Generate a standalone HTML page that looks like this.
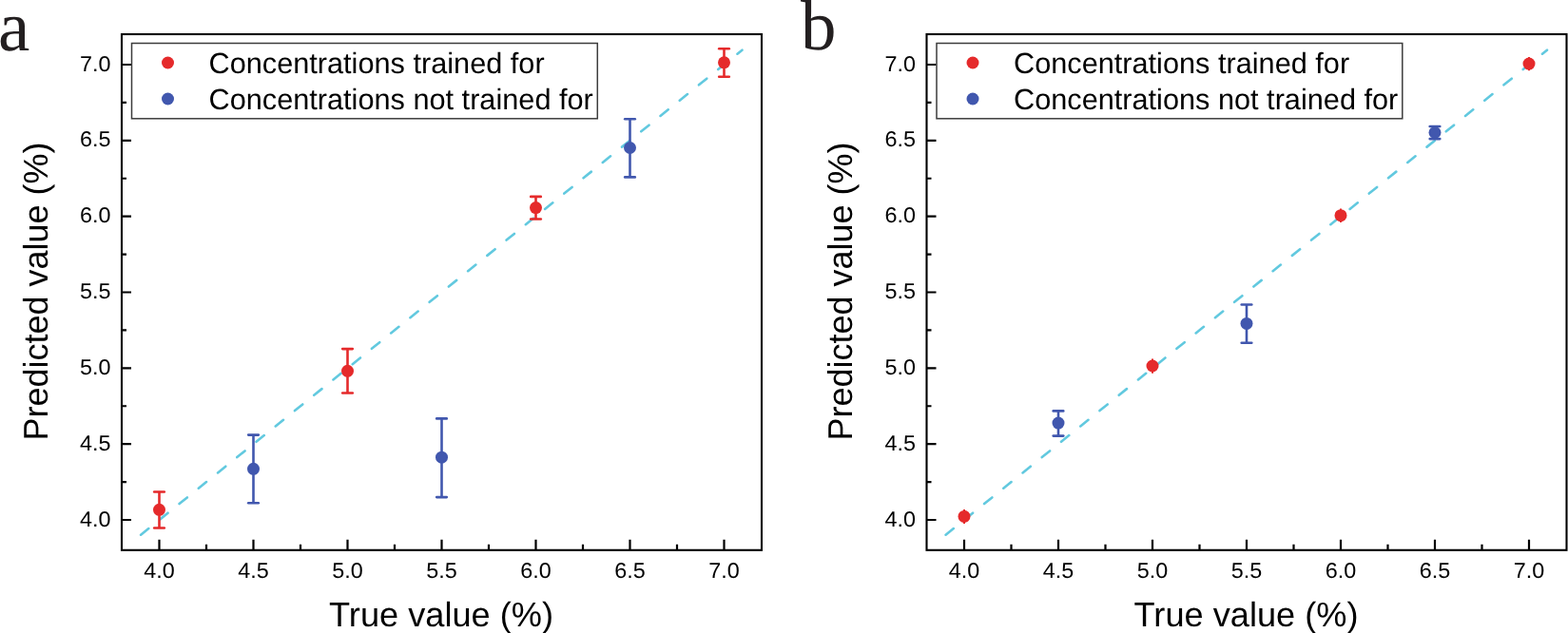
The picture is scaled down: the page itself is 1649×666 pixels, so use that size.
<!DOCTYPE html>
<html><head><meta charset="utf-8"><title>Predicted vs true value</title>
<style>html,body{margin:0;padding:0;background:#fff;width:1649px;height:666px;overflow:hidden}svg{display:block}</style>
</head><body>
<svg width="1649" height="666" viewBox="0 0 1649 666" text-rendering="geometricPrecision">
<rect width="1649" height="666" fill="#fff"/>
<line x1="148.09" y1="562.69" x2="780.46" y2="52.66" stroke="#62c9df" stroke-width="2.6" stroke-linecap="round" stroke-dasharray="10.6 15.4"/>
<g stroke="#e52a2b" stroke-width="2.6" fill="none"><line x1="167.50" y1="517.5" x2="167.50" y2="555.5"/><line x1="162.20" y1="517.5" x2="172.80" y2="517.5" stroke-linecap="round"/><line x1="162.20" y1="555.5" x2="172.80" y2="555.5" stroke-linecap="round"/></g>
<circle cx="167.50" cy="536.3" r="6.5" fill="#e52a2b"/>
<g stroke="#4157ae" stroke-width="2.6" fill="none"><line x1="266.50" y1="457.6" x2="266.50" y2="529.2"/><line x1="261.20" y1="457.6" x2="271.80" y2="457.6" stroke-linecap="round"/><line x1="261.20" y1="529.2" x2="271.80" y2="529.2" stroke-linecap="round"/></g>
<circle cx="266.50" cy="493.3" r="6.5" fill="#4157ae"/>
<g stroke="#e52a2b" stroke-width="2.6" fill="none"><line x1="365.50" y1="367.1" x2="365.50" y2="413.5"/><line x1="360.20" y1="367.1" x2="370.80" y2="367.1" stroke-linecap="round"/><line x1="360.20" y1="413.5" x2="370.80" y2="413.5" stroke-linecap="round"/></g>
<circle cx="365.50" cy="390.3" r="6.5" fill="#e52a2b"/>
<g stroke="#4157ae" stroke-width="2.6" fill="none"><line x1="464.50" y1="440.4" x2="464.50" y2="523.1"/><line x1="459.20" y1="440.4" x2="469.80" y2="440.4" stroke-linecap="round"/><line x1="459.20" y1="523.1" x2="469.80" y2="523.1" stroke-linecap="round"/></g>
<circle cx="464.50" cy="481.2" r="6.5" fill="#4157ae"/>
<g stroke="#e52a2b" stroke-width="2.6" fill="none"><line x1="563.50" y1="206.9" x2="563.50" y2="230.5"/><line x1="558.20" y1="206.9" x2="568.80" y2="206.9" stroke-linecap="round"/><line x1="558.20" y1="230.5" x2="568.80" y2="230.5" stroke-linecap="round"/></g>
<circle cx="563.50" cy="218.6" r="6.5" fill="#e52a2b"/>
<g stroke="#4157ae" stroke-width="2.6" fill="none"><line x1="662.50" y1="125.3" x2="662.50" y2="186.4"/><line x1="657.20" y1="125.3" x2="667.80" y2="125.3" stroke-linecap="round"/><line x1="657.20" y1="186.4" x2="667.80" y2="186.4" stroke-linecap="round"/></g>
<circle cx="662.50" cy="155.5" r="6.5" fill="#4157ae"/>
<g stroke="#e52a2b" stroke-width="2.6" fill="none"><line x1="761.50" y1="51.2" x2="761.50" y2="80.7"/><line x1="756.20" y1="51.2" x2="766.80" y2="51.2" stroke-linecap="round"/><line x1="756.20" y1="80.7" x2="766.80" y2="80.7" stroke-linecap="round"/></g>
<circle cx="761.50" cy="65.8" r="6.5" fill="#e52a2b"/>
<path d="M167.50 578.8V567.8 M128 547.00H138 M217.00 578.8V572.8 M128 507.08H133 M266.50 578.8V567.8 M128 467.17H138 M316.00 578.8V572.8 M128 427.25H133 M365.50 578.8V567.8 M128 387.33H138 M415.00 578.8V572.8 M128 347.41H133 M464.50 578.8V567.8 M128 307.50H138 M514.00 578.8V572.8 M128 267.58H133 M563.50 578.8V567.8 M128 227.66H138 M613.00 578.8V572.8 M128 187.74H133 M662.50 578.8V567.8 M128 147.83H138 M712.00 578.8V572.8 M128 107.91H133 M761.50 578.8V567.8 M128 67.99H138" stroke="#000" stroke-width="2.2" fill="none"/>
<rect x="128" y="36" width="673" height="542.8" fill="none" stroke="#000" stroke-width="2.1"/>
<text x="167.50" y="608.1" text-anchor="middle" font-family="Liberation Sans, Arial, sans-serif" font-size="22.8" textLength="32.5" lengthAdjust="spacingAndGlyphs">4.0</text>
<text x="116.6" y="553.60" text-anchor="end" font-family="Liberation Sans, Arial, sans-serif" font-size="22.8" textLength="32.5" lengthAdjust="spacingAndGlyphs">4.0</text>
<text x="266.50" y="608.1" text-anchor="middle" font-family="Liberation Sans, Arial, sans-serif" font-size="22.8" textLength="32.5" lengthAdjust="spacingAndGlyphs">4.5</text>
<text x="116.6" y="473.77" text-anchor="end" font-family="Liberation Sans, Arial, sans-serif" font-size="22.8" textLength="32.5" lengthAdjust="spacingAndGlyphs">4.5</text>
<text x="365.50" y="608.1" text-anchor="middle" font-family="Liberation Sans, Arial, sans-serif" font-size="22.8" textLength="32.5" lengthAdjust="spacingAndGlyphs">5.0</text>
<text x="116.6" y="393.93" text-anchor="end" font-family="Liberation Sans, Arial, sans-serif" font-size="22.8" textLength="32.5" lengthAdjust="spacingAndGlyphs">5.0</text>
<text x="464.50" y="608.1" text-anchor="middle" font-family="Liberation Sans, Arial, sans-serif" font-size="22.8" textLength="32.5" lengthAdjust="spacingAndGlyphs">5.5</text>
<text x="116.6" y="314.10" text-anchor="end" font-family="Liberation Sans, Arial, sans-serif" font-size="22.8" textLength="32.5" lengthAdjust="spacingAndGlyphs">5.5</text>
<text x="563.50" y="608.1" text-anchor="middle" font-family="Liberation Sans, Arial, sans-serif" font-size="22.8" textLength="32.5" lengthAdjust="spacingAndGlyphs">6.0</text>
<text x="116.6" y="234.26" text-anchor="end" font-family="Liberation Sans, Arial, sans-serif" font-size="22.8" textLength="32.5" lengthAdjust="spacingAndGlyphs">6.0</text>
<text x="662.50" y="608.1" text-anchor="middle" font-family="Liberation Sans, Arial, sans-serif" font-size="22.8" textLength="32.5" lengthAdjust="spacingAndGlyphs">6.5</text>
<text x="116.6" y="154.43" text-anchor="end" font-family="Liberation Sans, Arial, sans-serif" font-size="22.8" textLength="32.5" lengthAdjust="spacingAndGlyphs">6.5</text>
<text x="761.50" y="608.1" text-anchor="middle" font-family="Liberation Sans, Arial, sans-serif" font-size="22.8" textLength="32.5" lengthAdjust="spacingAndGlyphs">7.0</text>
<text x="116.6" y="74.59" text-anchor="end" font-family="Liberation Sans, Arial, sans-serif" font-size="22.8" textLength="32.5" lengthAdjust="spacingAndGlyphs">7.0</text>
<text x="464.1" y="658.5" text-anchor="middle" font-family="Liberation Sans, Arial, sans-serif" font-size="36.2">True value (%)</text>
<text transform="translate(49.7 306.5) rotate(-90)" text-anchor="middle" font-family="Liberation Sans, Arial, sans-serif" font-size="36">Predicted value (%)</text>
<rect x="138.5" y="45.5" width="489.8" height="79.3" fill="#fff" stroke="#3c3c3c" stroke-width="1.5"/>
<circle cx="176.5" cy="66" r="6.5" fill="#e52a2b"/>
<circle cx="176.5" cy="104" r="6.5" fill="#4157ae"/>
<text x="219.5" y="76.5" font-family="Liberation Sans, Arial, sans-serif" font-size="30.7">Concentrations trained for</text>
<text x="219.5" y="114.5" font-family="Liberation Sans, Arial, sans-serif" font-size="30.7">Concentrations not trained for</text>
<text x="-2.0" y="52.5" font-family="Liberation Serif, Times New Roman, serif" font-size="75" fill="#231f20">a</text>
<line x1="994.59" y1="562.69" x2="1626.96" y2="52.66" stroke="#62c9df" stroke-width="2.6" stroke-linecap="round" stroke-dasharray="10.6 15.4"/>
<line x1="1014.00" y1="536.0" x2="1014.00" y2="551.0" stroke="#e52a2b" stroke-width="2"/>
<circle cx="1014.00" cy="543.4" r="6.5" fill="#e52a2b"/>
<g stroke="#4157ae" stroke-width="2.6" fill="none"><line x1="1113.00" y1="432.4" x2="1113.00" y2="458.6"/><line x1="1107.70" y1="432.4" x2="1118.30" y2="432.4" stroke-linecap="round"/><line x1="1107.70" y1="458.6" x2="1118.30" y2="458.6" stroke-linecap="round"/></g>
<circle cx="1113.00" cy="445.1" r="6.5" fill="#4157ae"/>
<line x1="1212.00" y1="377.6" x2="1212.00" y2="392.7" stroke="#e52a2b" stroke-width="2"/>
<circle cx="1212.00" cy="385.0" r="6.5" fill="#e52a2b"/>
<g stroke="#4157ae" stroke-width="2.6" fill="none"><line x1="1311.00" y1="320.5" x2="1311.00" y2="360.7"/><line x1="1305.70" y1="320.5" x2="1316.30" y2="320.5" stroke-linecap="round"/><line x1="1305.70" y1="360.7" x2="1316.30" y2="360.7" stroke-linecap="round"/></g>
<circle cx="1311.00" cy="340.4" r="6.5" fill="#4157ae"/>
<line x1="1410.00" y1="219.5" x2="1410.00" y2="233.9" stroke="#e52a2b" stroke-width="2"/>
<circle cx="1410.00" cy="226.7" r="6.5" fill="#e52a2b"/>
<g stroke="#4157ae" stroke-width="2.6" fill="none"><line x1="1509.00" y1="133.0" x2="1509.00" y2="146.1"/><line x1="1503.70" y1="133.0" x2="1514.30" y2="133.0" stroke-linecap="round"/><line x1="1503.70" y1="146.1" x2="1514.30" y2="146.1" stroke-linecap="round"/></g>
<circle cx="1509.00" cy="139.5" r="6.5" fill="#4157ae"/>
<line x1="1608.00" y1="60.0" x2="1608.00" y2="74.2" stroke="#e52a2b" stroke-width="2"/>
<circle cx="1608.00" cy="67.1" r="6.5" fill="#e52a2b"/>
<path d="M1014.00 578.8V567.8 M974.5 547.00H984.5 M1063.50 578.8V572.8 M974.5 507.08H979.5 M1113.00 578.8V567.8 M974.5 467.17H984.5 M1162.50 578.8V572.8 M974.5 427.25H979.5 M1212.00 578.8V567.8 M974.5 387.33H984.5 M1261.50 578.8V572.8 M974.5 347.41H979.5 M1311.00 578.8V567.8 M974.5 307.50H984.5 M1360.50 578.8V572.8 M974.5 267.58H979.5 M1410.00 578.8V567.8 M974.5 227.66H984.5 M1459.50 578.8V572.8 M974.5 187.74H979.5 M1509.00 578.8V567.8 M974.5 147.83H984.5 M1558.50 578.8V572.8 M974.5 107.91H979.5 M1608.00 578.8V567.8 M974.5 67.99H984.5" stroke="#000" stroke-width="2.2" fill="none"/>
<rect x="974.5" y="36" width="673.0" height="542.8" fill="none" stroke="#000" stroke-width="2.1"/>
<text x="1014.00" y="608.1" text-anchor="middle" font-family="Liberation Sans, Arial, sans-serif" font-size="22.8" textLength="32.5" lengthAdjust="spacingAndGlyphs">4.0</text>
<text x="963.1" y="553.60" text-anchor="end" font-family="Liberation Sans, Arial, sans-serif" font-size="22.8" textLength="32.5" lengthAdjust="spacingAndGlyphs">4.0</text>
<text x="1113.00" y="608.1" text-anchor="middle" font-family="Liberation Sans, Arial, sans-serif" font-size="22.8" textLength="32.5" lengthAdjust="spacingAndGlyphs">4.5</text>
<text x="963.1" y="473.77" text-anchor="end" font-family="Liberation Sans, Arial, sans-serif" font-size="22.8" textLength="32.5" lengthAdjust="spacingAndGlyphs">4.5</text>
<text x="1212.00" y="608.1" text-anchor="middle" font-family="Liberation Sans, Arial, sans-serif" font-size="22.8" textLength="32.5" lengthAdjust="spacingAndGlyphs">5.0</text>
<text x="963.1" y="393.93" text-anchor="end" font-family="Liberation Sans, Arial, sans-serif" font-size="22.8" textLength="32.5" lengthAdjust="spacingAndGlyphs">5.0</text>
<text x="1311.00" y="608.1" text-anchor="middle" font-family="Liberation Sans, Arial, sans-serif" font-size="22.8" textLength="32.5" lengthAdjust="spacingAndGlyphs">5.5</text>
<text x="963.1" y="314.10" text-anchor="end" font-family="Liberation Sans, Arial, sans-serif" font-size="22.8" textLength="32.5" lengthAdjust="spacingAndGlyphs">5.5</text>
<text x="1410.00" y="608.1" text-anchor="middle" font-family="Liberation Sans, Arial, sans-serif" font-size="22.8" textLength="32.5" lengthAdjust="spacingAndGlyphs">6.0</text>
<text x="963.1" y="234.26" text-anchor="end" font-family="Liberation Sans, Arial, sans-serif" font-size="22.8" textLength="32.5" lengthAdjust="spacingAndGlyphs">6.0</text>
<text x="1509.00" y="608.1" text-anchor="middle" font-family="Liberation Sans, Arial, sans-serif" font-size="22.8" textLength="32.5" lengthAdjust="spacingAndGlyphs">6.5</text>
<text x="963.1" y="154.43" text-anchor="end" font-family="Liberation Sans, Arial, sans-serif" font-size="22.8" textLength="32.5" lengthAdjust="spacingAndGlyphs">6.5</text>
<text x="1608.00" y="608.1" text-anchor="middle" font-family="Liberation Sans, Arial, sans-serif" font-size="22.8" textLength="32.5" lengthAdjust="spacingAndGlyphs">7.0</text>
<text x="963.1" y="74.59" text-anchor="end" font-family="Liberation Sans, Arial, sans-serif" font-size="22.8" textLength="32.5" lengthAdjust="spacingAndGlyphs">7.0</text>
<text x="1310.6" y="658.5" text-anchor="middle" font-family="Liberation Sans, Arial, sans-serif" font-size="36.2">True value (%)</text>
<text transform="translate(896.2 306.5) rotate(-90)" text-anchor="middle" font-family="Liberation Sans, Arial, sans-serif" font-size="36">Predicted value (%)</text>
<rect x="985.0" y="45.5" width="489.8" height="79.3" fill="#fff" stroke="#3c3c3c" stroke-width="1.5"/>
<circle cx="1023.0" cy="66" r="6.5" fill="#e52a2b"/>
<circle cx="1023.0" cy="104" r="6.5" fill="#4157ae"/>
<text x="1066.0" y="76.5" font-family="Liberation Sans, Arial, sans-serif" font-size="30.7">Concentrations trained for</text>
<text x="1066.0" y="114.5" font-family="Liberation Sans, Arial, sans-serif" font-size="30.7">Concentrations not trained for</text>
<text x="842.0" y="51.8" font-family="Liberation Serif, Times New Roman, serif" font-size="75" fill="#231f20">b</text>
</svg>
</body></html>
